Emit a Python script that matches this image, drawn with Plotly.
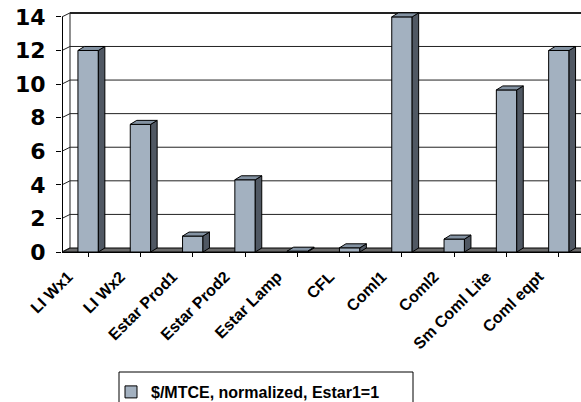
import plotly.graph_objects as go

# Program labels and normalised cost per metric ton of carbon equivalent
categories = ["LI Wx1", "LI Wx2", "Estar Prod1", "Estar Prod2", "Estar Lamp",
              "CFL", "Coml1", "Coml2", "Sm Coml Lite", "Coml eqpt"]
values = [12.0, 7.6, 0.95, 4.3, 0.05, 0.25, 14.0, 0.77, 9.65, 12.0]
series_name = "$/MTCE, normalized, Estar1=1"
y_ticks = [0, 2, 4, 6, 8, 10, 12, 14]

# Page geometry
W, H = 581, 402
ML, MR, MT, MB = 62, 0, 11, 150
plot_w = W - ML - MR
plot_h = H - MT - MB
cat_px = 52.3                      # pixels per category
x_lo = -0.5
x_hi = x_lo + plot_w / cat_px
y_lo, y_hi = 0.0, 14.35
y_px = plot_h / (y_hi - y_lo)      # pixels per unit

# 3-D depth offsets (converted from pixels to data units)
wall_dx, wall_dy = 8 / cat_px, 4 / y_px
bar_dx, bar_dy = 6.5 / cat_px, 4 / y_px
bar_w = 0.39

FRONT = "#A3B1C0"
SIDE = "#505863"
TOP = "#8392A2"
FLOOR = "#6A6A6A"
GRID = "#222222"

xi = list(range(len(categories)))

fig = go.Figure()
fig.add_trace(go.Bar(
    x=xi, y=values, width=bar_w, name=series_name,
    marker=dict(color=FRONT, line=dict(color="black", width=1)),
    showlegend=True,
))

shapes = []

def poly(pts, fill, layer, lw=1, lc="black"):
    d = "M " + " L ".join(f"{px},{py}" for px, py in pts) + " Z"
    shapes.append(dict(type="path", path=d, xref="x", yref="y",
                       fillcolor=fill, line=dict(color=lc, width=lw), layer=layer))

def seg(x0, y0, x1, y1, width=1, color=GRID, layer="below"):
    shapes.append(dict(type="line", x0=x0, y0=y0, x1=x1, y1=y1, xref="x", yref="y",
                       line=dict(color=color, width=width), layer=layer))

# Floor slab
x_end = len(categories) + 1
poly([(x_lo, 0), (x_end, 0), (x_end + wall_dx, wall_dy), (x_lo + wall_dx, wall_dy)],
     FLOOR, "below")

# Back-wall gridlines and their left-wall diagonals
bx = x_lo + wall_dx
for v in y_ticks:
    if v > 0:
        seg(bx, v + wall_dy, x_end, v + wall_dy,
            width=2 if v == y_ticks[-1] else 1)
    seg(x_lo, v, bx, v + wall_dy)
seg(bx, wall_dy, bx, y_ticks[-1] + wall_dy)
# front-left edge of the chart box
seg(x_lo, 0, x_lo, y_ticks[-1], width=2, color="black")

# Side and top faces of each bar
for i, v in zip(xi, values):
    l, r = i - bar_w / 2, i + bar_w / 2
    poly([(r, 0), (r + bar_dx, bar_dy), (r + bar_dx, v + bar_dy), (r, v)], SIDE, "above")
    poly([(l, v), (r, v), (r + bar_dx, v + bar_dy), (l + bar_dx, v + bar_dy)], TOP, "above")

# Legend frame (pixel box on the page)
LEG_L, LEG_T, LEG_R, LEG_B = 119, 372, 413, 410
shapes.append(dict(type="rect", xref="paper", yref="paper",
                   x0=(LEG_L - ML) / plot_w, x1=(LEG_R - ML) / plot_w,
                   y0=-(LEG_B - (H - MB)) / plot_h, y1=-(LEG_T - (H - MB)) / plot_h,
                   line=dict(color="black", width=1), fillcolor="rgba(0,0,0,0)",
                   layer="above"))

fig.update_layout(
    width=W, height=H,
    margin=dict(l=ML, r=MR, t=MT, b=MB, autoexpand=False),
    paper_bgcolor="white", plot_bgcolor="white",
    shapes=shapes,
    showlegend=True,
    legend=dict(
        x=(LEG_L - 8 - ML) / plot_w, y=-(LEG_T + 3 - (H - MB)) / plot_h,
        xanchor="left", yanchor="top",
        borderwidth=0, bgcolor="rgba(0,0,0,0)",
        font=dict(family="Liberation Sans", size=16, color="black", weight="bold"),
    ),
    xaxis=dict(
        range=[x_lo, x_hi], tickmode="array", tickvals=xi, ticktext=categories,
        tickangle=-45, showgrid=False, zeroline=False, automargin=False,
        showline=True, linecolor="black", linewidth=1,
        ticks="outside", ticklen=4, tickcolor="black",
        ticklabelshift=-20, ticklabelstandoff=4,
        tickfont=dict(family="Liberation Sans", size=16, color="black", weight="bold"),
    ),
    yaxis=dict(
        range=[y_lo, y_hi], tickmode="array", tickvals=y_ticks, automargin=False,
        showgrid=False, zeroline=False, showline=False,
        ticks="outside", ticklen=5, tickcolor="black",
        ticklabelstandoff=6,
        tickfont=dict(family="DejaVu Sans", size=22, color="black", weight="bold"),
    ),
)

fig.write_html("out.html")
